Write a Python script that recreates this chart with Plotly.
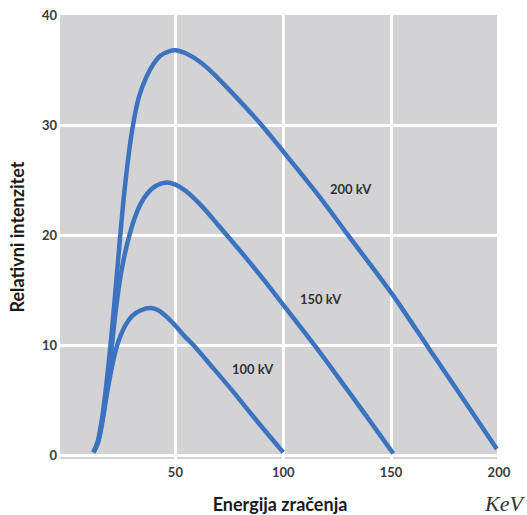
import plotly.graph_objects as go

# Energy (keV) and relative intensity for each tube voltage
x_200 = [12, 14, 16, 18, 20, 22, 24, 26, 28, 30, 33, 36.6, 40, 43, 47, 50, 55, 61, 67, 75, 90, 105, 118, 130.5, 150, 168, 185, 199]
y_200 = [0.3, 1.3, 3.4, 6.5, 10.2, 14.5, 19, 23.3, 26.8, 29.6, 32.5, 34.4, 35.6, 36.3, 36.7, 36.8, 36.5, 35.8, 34.8, 33.2, 30, 26.4, 23.2, 19.9, 14.8, 9.6, 4.7, 0.6]

x_150 = [12, 14, 16, 18, 20, 22, 24, 26, 28, 31, 34, 37, 41, 46, 50, 55, 62, 70, 80, 90, 100, 115, 130, 140, 151]
y_150 = [0.3, 1.2, 3.1, 5.8, 9, 12.6, 15.6, 17.8, 19.5, 21.5, 22.9, 23.8, 24.5, 24.8, 24.6, 24, 22.7, 20.9, 18.6, 16.2, 13.7, 9.9, 5.9, 3.2, 0.2]

x_100 = [12, 14, 16, 18, 20, 22, 24, 27, 30, 34, 38.7, 42, 46, 50, 54, 58.5, 66, 76, 88, 100]
y_100 = [0.3, 1.1, 2.9, 5.3, 7.5, 9.3, 10.6, 11.9, 12.7, 13.2, 13.4, 13.2, 12.6, 11.8, 10.9, 10, 8.3, 6, 3.1, 0.3]

series = [("200 kV", x_200, y_200), ("150 kV", x_150, y_150), ("100 kV", x_100, y_100)]
label_pos = {"200 kV": (131.5, 24.2), "150 kV": (117.6, 14.2), "100 kV": (86, 7.9)}

x_ticks = [50, 100, 150, 200]
y_ticks = [0, 10, 20, 30, 40]

fig = go.Figure()
for name, xs, ys in series:
    fig.add_trace(go.Scatter(x=xs, y=ys, mode="lines", name=name,
                             line=dict(color="#3B73C1", width=4.5, shape="spline", smoothing=1.0),
                             showlegend=False))
    lx, ly = label_pos[name]
    fig.add_annotation(x=lx, y=ly, text=name, showarrow=False,
                       font=dict(family="Lato", size=13, color="#333333", weight="bold"))

fig.add_annotation(xref="paper", yref="paper", x=1.061, y=-0.1, xanchor="right", yanchor="middle",
                   text="KeV", showarrow=False,
                   font=dict(family="Liberation Serif", size=22, color="#333333", style="italic"))

fig.update_layout(
    width=527, height=515,
    margin=dict(l=60, r=27, t=15, b=56),
    paper_bgcolor="white", plot_bgcolor="#D3D3D5",
    font=dict(family="Lato", color="#333333"),
    xaxis=dict(range=[-3.5, 200.5], tickvals=x_ticks, showgrid=True, gridcolor="white", gridwidth=2.5,
               zeroline=False, showline=False, ticks="", ticklen=0, automargin=False,
               ticklabelstandoff=4,
               tickfont=dict(family="Lato", size=13, color="#3a3a3a", weight="bold"),
               title=dict(text="Energija zračenja", standoff=19,
                          font=dict(family="Lato", size=18, color="#1a1a1a", weight="bold"))),
    yaxis=dict(range=[-0.3, 40], tickvals=y_ticks, showgrid=True, gridcolor="white", gridwidth=2.5,
               zeroline=False, showline=False, ticks="", ticklen=0, automargin=False,
               ticklabelstandoff=2,
               tickfont=dict(family="Lato", size=13, color="#3a3a3a", weight="bold"),
               title=dict(text="Relativni intenzitet", standoff=12,
                          font=dict(family="Lato", size=18, color="#1a1a1a", weight="bold"))),
)

fig.write_html("out.html", config={"displayModeBar": False},
               post_script="document.body.style.margin='0';")
